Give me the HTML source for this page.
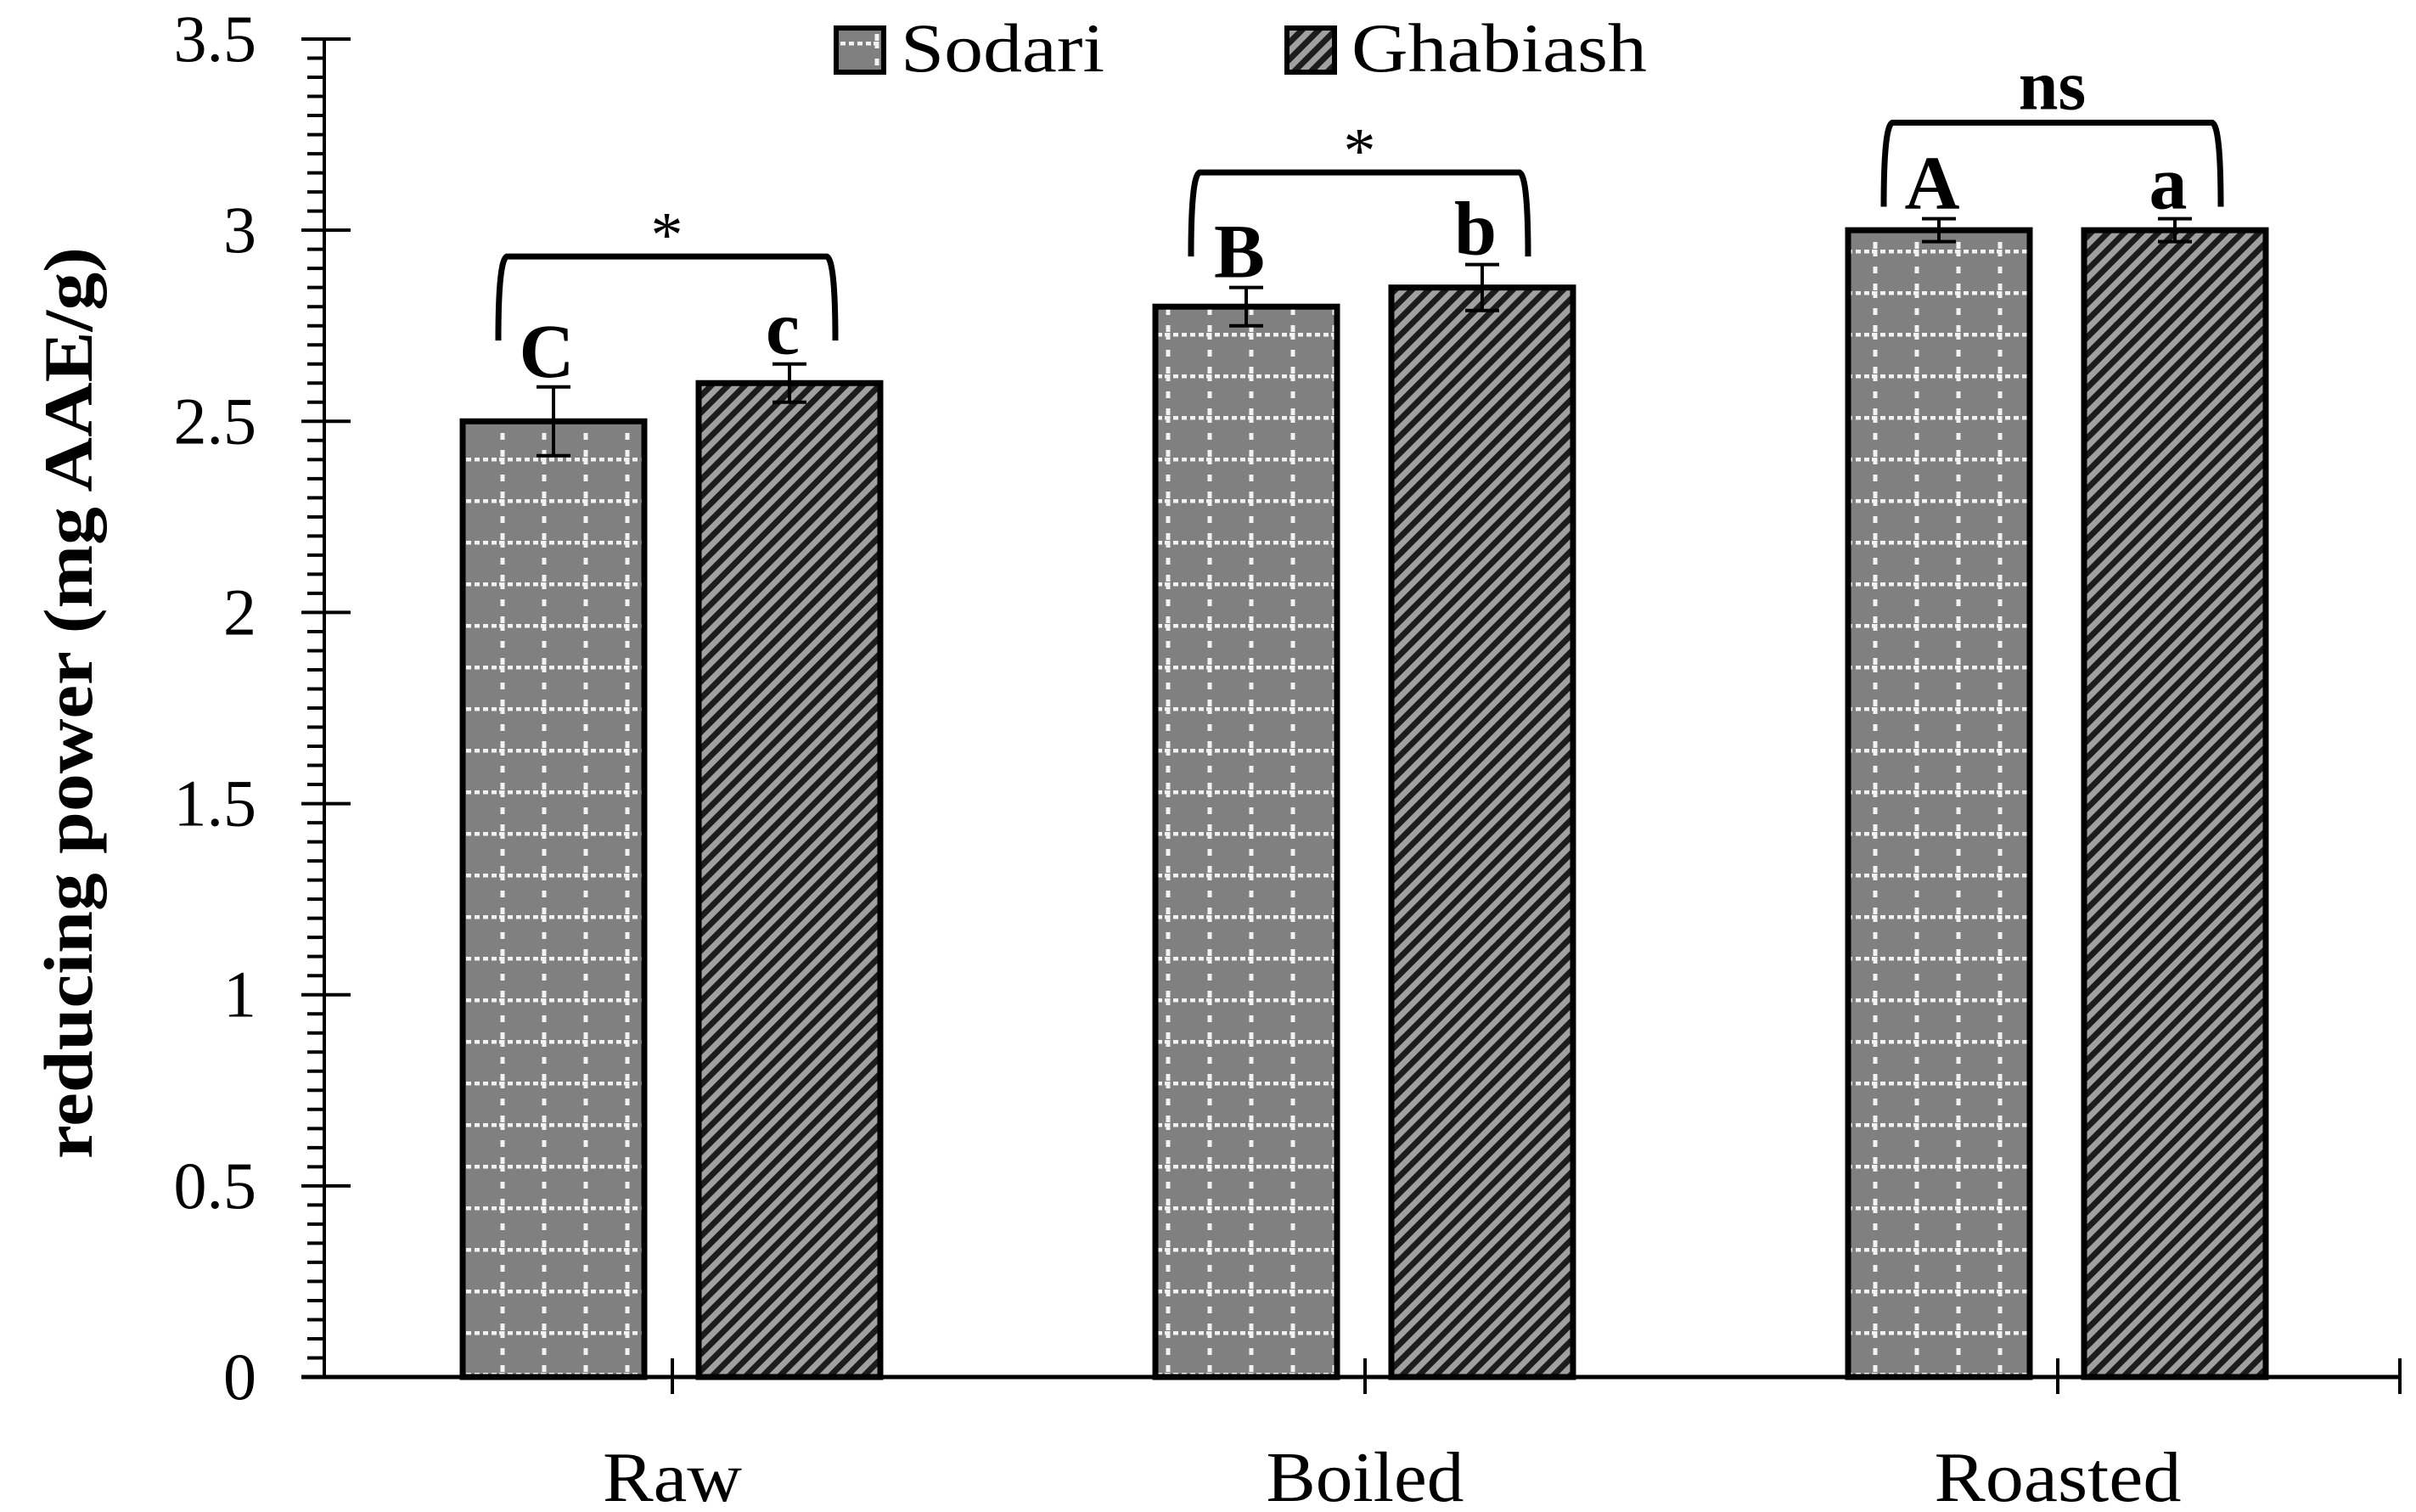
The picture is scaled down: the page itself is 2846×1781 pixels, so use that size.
<!DOCTYPE html>
<html><head><meta charset="utf-8"><style>
html,body{margin:0;padding:0;background:#fff;}
svg{display:block;}
text{font-family:"Liberation Serif",serif;fill:#000;}
</style></head><body>
<svg id="chart" width="2846" height="1781" viewBox="0 0 2846 1781" xmlns="http://www.w3.org/2000/svg">
<defs>
<pattern id="pS" patternUnits="userSpaceOnUse" width="49" height="49" x="0" y="0">
<rect width="49" height="49" fill="#808080"/>
<line x1="0" y1="2" x2="49" y2="2" stroke="#f2f2f2" stroke-width="5" stroke-dasharray="6 4"/>
<line x1="4" y1="0" x2="4" y2="49" stroke="#f2f2f2" stroke-width="5" stroke-dasharray="8 12"/>
</pattern>
<pattern id="pG" patternUnits="userSpaceOnUse" width="14" height="14" patternTransform="rotate(45)">
<rect width="14" height="14" fill="#a0a0a0"/>
<rect width="7" height="14" fill="#1c1c1c"/>
</pattern>
</defs>
<g id="plot"></g>
</svg>
<script>
const categories = ["Raw", "Boiled", "Roasted"];
const series = ["Sodari", "Ghabiash"];
const sodariValues = [2.5, 2.8, 3.0];
const ghabiashValues = [2.6, 2.85, 3.0];
const sodariErrors = [0.09, 0.05, 0.03];
const ghabiashErrors = [0.05, 0.06, 0.03];
const sodariLetters = ["C", "B", "A"];
const ghabiashLetters = ["c", "b", "a"];
const bracketLevels = [2.94, 3.16, 3.29];
const bracketMarks = ["*", "*", "ns"];
const yTicks = [0, 0.5, 1, 1.5, 2, 2.5, 3, 3.5];
const yTickLabels = ["0", "0.5", "1", "1.5", "2", "2.5", "3", "3.5"];

const NS = "http://www.w3.org/2000/svg";
const g = document.getElementById("plot");
const X0 = 382, Y0 = 1622, YTOP = 46, YMAX = 3.5, XEND = 2827;
const GROUP = 816, FIRST = 792;
const labelWidths = [164, 233, 291];
function y(v){ return Y0 - (Y0 - YTOP) * v / YMAX; }
function xc(i){ return FIRST + i * GROUP; }
function mk(tag, attrs, parent){
  const e = document.createElementNS(NS, tag);
  for (const k in attrs) e.setAttribute(k, attrs[k]);
  (parent || g).appendChild(e);
  return e;
}

const BW = 214;
categories.forEach((c, i) => {
  const cx = xc(i);
  [[sodariValues, sodariErrors, sodariLetters, -247, "url(#pS)", "sodari"],
   [ghabiashValues, ghabiashErrors, ghabiashLetters, 31, "url(#pG)", "ghabiash"]].forEach(s => {
    const v = s[0][i], e = s[1][i];
    const x = cx + s[3];
    const r = mk("rect", {x: x, y: y(v), width: BW, height: Y0 - y(v), fill: s[4], stroke: "#000", "stroke-width": 7});
    
    
    const mx = x + BW / 2;
    const eb = mk("path", {d: `M${mx},${y(v+e)}V${y(v-e)}M${mx-20},${y(v+e)}H${mx+20}M${mx-20},${y(v-e)}H${mx+20}`, stroke: "#000", "stroke-width": 4, fill: "none"});
    
    
    const t = mk("text", {x: mx - 8, y: y(v + e) - 12, "text-anchor": "middle", "font-size": 90, "font-weight": "bold"});
    t.textContent = s[2][i];
    
    
  });
  const top = y(bracketLevels[i]), bot = top + 103;
  const L = cx - 205, R = cx + 192;
  const b = mk("path", {d: `M${L},${bot} Q${L},${top+8} ${L+10},${top+4} H${R-10} Q${R},${top+8} ${R},${bot}`, stroke: "#000", "stroke-width": 7, fill: "none"});
  
  
  const isStar = bracketMarks[i] === "*";
  const st = mk("text", {x: (L + R) / 2, y: isStar ? top + 4 : top - 12, "text-anchor": "middle", "font-size": isStar ? 76 : 84, "font-weight": isStar ? "normal" : "bold"});
  st.textContent = bracketMarks[i];
  
  
  const xl = mk("text", {x: cx, y: 1768, "text-anchor": "middle", "font-size": 84, textLength: labelWidths[i], lengthAdjust: "spacingAndGlyphs"});
  xl.textContent = c;
  
  
});

const ya = mk("line", {x1: X0, y1: YTOP, x2: X0, y2: Y0, stroke: "#000", "stroke-width": 4});


const xa = mk("line", {x1: 355, y1: Y0, x2: XEND, y2: Y0, stroke: "#000", "stroke-width": 5});


for (let k = 0; k <= 70; k++) {
  const v = k * 0.05, major = k % 10 === 0;
  const tk = mk("line", {x1: major ? 355 : 362, y1: y(v), x2: major ? 413 : X0, y2: y(v), stroke: "#000", "stroke-width": 4});
  
  
}
yTicks.forEach((v, i) => {
  const t = mk("text", {x: 302, y: y(v) + 26, "text-anchor": "end", "font-size": 78});
  t.textContent = yTickLabels[i];
  
  
});
for (let i = 0; i <= categories.length; i++) {
  const xx = i < categories.length ? xc(i) : XEND;
  const tk = mk("line", {x1: xx, y1: 1600, x2: xx, y2: 1642, stroke: "#000", "stroke-width": 4});
  
  
}
const yt = mk("text", {x: 0, y: 0, transform: "translate(108,828) rotate(-90)", "text-anchor": "middle", "font-size": 82, "font-weight": "bold", textLength: 1074, lengthAdjust: "spacingAndGlyphs"});
yt.textContent = "reducing power (mg AAE/g)";



[[985, "url(#pS)", "Sodari", 240], [1516, "url(#pG)", "Ghabiash", 348]].forEach(l => {
  const sw = mk("rect", {x: l[0], y: 33, width: 56, height: 52, fill: l[1], stroke: "#000", "stroke-width": 6});
  
  
  const t = mk("text", {x: l[0] + 76, y: 84, "font-size": 82, textLength: l[3], lengthAdjust: "spacingAndGlyphs"});
  t.textContent = l[2];
  
  
});
</script>
</body></html>
